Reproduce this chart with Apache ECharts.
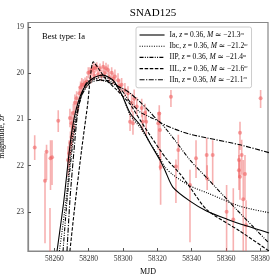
<!DOCTYPE html>
<html><head><meta charset="utf-8">
<script src="https://cdn.jsdelivr.net/npm/echarts@6/dist/echarts.min.js"></script>
<style>html,body{margin:0;padding:0;background:#fff}#c{width:280px;height:280px}</style>
</head><body><div id="c"></div>
<script>
const xTicks = [58260, 58280, 58300, 58320, 58340, 58360, 58380];
const yTicks = [19, 20, 21, 22, 23];
const types = ['Ia', 'Ibc', 'IIP', 'IIL', 'IIn'];
const absMag = ['21.3', '21.2', '21.4', '21.6', '21.1'];

const iaMjd = [58261.6, 58265.6, 58269.5, 58272.6, 58276.7, 58281.9, 58288.3, 58294.2, 58299.4, 58304.1, 58309.9, 58315.7, 58321.5, 58324.4, 58329.1, 58339.0, 58348.9, 58360.5, 58372.2, 58385.0];
const iaMag = [23.85, 22.75, 21.45, 20.80, 20.36, 20.12, 20.04, 20.15, 20.47, 20.86, 21.12, 21.51, 21.88, 22.10, 22.47, 22.77, 22.99, 23.16, 23.31, 23.46];

const ibcMjd = [58263.0, 58266.8, 58270.3, 58273.2, 58277.3, 58282.5, 58287.8, 58293.6, 58299.4, 58304.1, 58309.9, 58315.7, 58321.5, 58324.4, 58329.1, 58339.0, 58348.9, 58368.1, 58385.0];
const ibcMag = [23.85, 22.75, 21.45, 20.80, 20.36, 20.15, 20.08, 20.15, 20.47, 20.90, 21.17, 21.51, 21.84, 22.03, 22.20, 22.44, 22.59, 22.88, 23.02];

const iipMjd = [58265.1, 58267.4, 58270.3, 58273.2, 58276.1, 58280.8, 58286.6, 58292.4, 58298.2, 58304.1, 58309.9, 58315.7, 58321.5, 58330.2, 58339.0, 58348.9, 58366.3, 58385.0];
const iipMag = [23.85, 22.75, 21.66, 20.90, 20.47, 20.21, 20.15, 20.17, 20.32, 20.62, 20.84, 20.95, 21.06, 21.45, 21.88, 22.27, 22.96, 23.68];

const iilMjd = [58269.1, 58272.0, 58275.9, 58279.3, 58282.7, 58285.6, 58290.5, 58296.3, 58304.1, 58309.9, 58315.7, 58325.0, 58333.2, 58339.0, 58348.9, 58368.1, 58385.0];
const iilMag = [23.85, 22.86, 21.66, 20.71, 19.75, 19.89, 20.15, 20.36, 20.67, 21.01, 21.34, 21.84, 22.18, 22.47, 22.96, 23.42, 23.85];

const iinMjd = [58267.4, 58269.1, 58271.5, 58273.8, 58276.7, 58279.6, 58283.7, 58289.5, 58295.3, 58299.4, 58304.1, 58309.9, 58315.7, 58321.5, 58330.2, 58339.0, 58348.9, 58368.1, 58385.0];
const iinMag = [23.85, 22.75, 21.66, 20.80, 20.36, 20.17, 20.12, 20.17, 20.25, 20.32, 20.43, 20.62, 20.84, 21.06, 21.21, 21.32, 21.40, 21.55, 21.72];

const obsMjd = [58248.6, 58254.6, 58255.5, 58257.8, 58258.7, 58257.5, 58262.3,
  58268.0, 58268.7, 58269.1, 58269.4, 58270.1, 58270.1, 58271.1, 58271.1, 58272.0, 58273.0, 58273.5, 58274.6, 58275.3, 58276.0, 58276.9, 58277.9, 58278.9, 58279.8, 58280.8, 58281.3, 58281.8, 58282.7, 58283.2, 58283.7, 58284.7, 58285.5, 58286.6, 58287.5, 58288.5, 58289.3, 58290.1, 58291.3, 58292.0, 58293.4, 58294.3, 58295.3, 58297.1, 58298.0, 58299.2, 58301.1, 58302.9, 58304.1, 58305.0, 58305.8, 58306.5, 58308.0, 58310.9, 58312.8, 58313.5,
  58311.4, 58321.1, 58320.5, 58321.5, 58321.9, 58327.9, 58332.2, 58330.8, 58339.0, 58342.5, 58348.7, 58352.2, 58349.0, 58360.3, 58364.2, 58368.1, 58369.1, 58367.5, 58367.5, 58368.1, 58370.0, 58371.0, 58371.6, 58380.1];
const obsMag = [21.61, 22.33, 21.70, 21.84, 21.82, 24.40, 21.03,
  21.88, 21.73, 20.97, 21.51, 21.08, 21.38, 20.86, 21.16, 20.64, 20.54, 20.75, 20.43, 20.30, 20.25, 20.25, 20.21, 20.18, 19.99, 19.97, 20.12, 19.93, 19.89, 20.05, 19.89, 19.86, 20.02, 19.89, 20.05, 19.86, 20.00, 19.89, 19.93, 20.08, 19.99, 20.12, 20.07, 20.15, 20.28, 20.25, 20.36, 20.43, 21.05, 20.64, 21.08, 20.55, 20.72, 20.75, 20.86, 21.05,
  21.05, 20.87, 21.08, 21.23, 22.03, 20.51, 21.66, 22.02, 22.42, 21.84, 21.77, 21.77, 22.28, 23.00, 23.17, 21.29, 21.77, 21.88, 22.10, 22.24, 22.73, 22.18, 23.29, 20.54];
const obsErrUp = [0.27, 0.60, 0.15, 0.39, 0.37, 1.48, 0.23,
  0.30, 0.28, 0.20, 0.25, 0.25, 0.22, 0.20, 0.20, 0.18, 0.15, 0.15, 0.15, 0.12, 0.15, 0.12, 0.12, 0.12, 0.12, 0.10, 0.10, 0.10, 0.12, 0.10, 0.10, 0.10, 0.10, 0.10, 0.12, 0.12, 0.12, 0.12, 0.12, 0.12, 0.12, 0.12, 0.15, 0.15, 0.15, 0.15, 0.15, 0.15, 0.20, 0.20, 0.25, 0.20, 0.20, 0.20, 0.20, 0.25,
  0.19, 0.18, 0.24, 0.39, 0.37, 0.15, 0.33, 0.15, 0.33, 0.39, 0.37, 0.32, 0.29, 0.58, 0.68, 0.24, 0.33, 0.33, 0.33, 0.36, 0.85, 0.41, 0.54, 0.18];
const obsErrDown = [0.27, 1.35, 0.61, 0.69, 0.60, 0.50, 0.24,
  0.35, 0.30, 0.20, 0.25, 0.25, 0.25, 0.20, 0.20, 0.20, 0.15, 0.15, 0.15, 0.12, 0.15, 0.12, 0.12, 0.12, 0.12, 0.10, 0.10, 0.10, 0.12, 0.10, 0.10, 0.10, 0.10, 0.10, 0.12, 0.12, 0.12, 0.12, 0.12, 0.12, 0.12, 0.12, 0.15, 0.15, 0.15, 0.15, 0.15, 0.15, 0.20, 0.20, 0.25, 0.20, 0.20, 0.20, 0.20, 0.30,
  0.22, 0.19, 0.58, 0.87, 0.82, 0.22, 0.44, 0.79, 1.24, 0.43, 0.50, 0.65, 0.25, 0.85, 0.72, 0.37, 0.43, 0.39, 0.43, 0.50, 1.14, 0.56, 0.59, 0.21];

const curves = [
  [iaMjd, iaMag, 'solid'],
  [ibcMjd, ibcMag, [1, 1.4]],
  [iipMjd, iipMag, [4, 1.3, 1, 1.3, 1, 1.3]],
  [iilMjd, iilMag, [3.5, 1.6]],
  [iinMjd, iinMag, [5, 1.5, 1.2, 1.5]]
];

const SERIF = "'Liberation Serif','DejaVu Serif',serif";
const chart = echarts.init(document.getElementById('c'), null, {renderer: 'canvas'});

const obsData = obsMjd.map((m, i) => [m, obsMag[i], obsErrUp[i], obsErrDown[i]]);

const series = [];
series.push({
  type: 'custom', name: 'err', clip: true, silent: true, z: 1,
  data: obsData,
  renderItem: function (params, api) {
    const x = api.value(0), y = api.value(1), up = api.value(2), dn = api.value(3);
    const p1 = api.coord([x, y - up]);
    const p2 = api.coord([x, y + dn]);
    return {type: 'line', shape: {x1: p1[0], y1: p1[1], x2: p2[0], y2: p2[1]},
      style: {stroke: 'rgba(240,100,100,0.5)', lineWidth: 1.6}};
  }
});
series.push({
  type: 'scatter', name: 'obs', z: 2, silent: true, clip: true,
  symbolSize: 4,
  data: obsData.map(d => [d[0], d[1]]),
  itemStyle: {color: 'rgba(240,100,100,0.75)'}
});
curves.forEach((c, k) => {
  series.push({
    type: 'line', name: types[k], z: 5, clip: true, silent: true,
    data: c[0].map((m, i) => [m, c[1][i]]),
    showSymbol: false, symbol: 'none', smooth: 0.25,
    lineStyle: {color: '#000', width: 1.1, type: c[2]},
    itemStyle: {color: '#000'}
  });
});

chart.setOption({
  animation: false,
  backgroundColor: '#fff',
  title: [
    {text: 'SNAD125', left: 148, top: 3, textAlign: 'center',
     textStyle: {fontFamily: SERIF, fontSize: 11, fontWeight: 'normal', color: '#000'}},
    {text: 'Best type: Ia', left: 37, top: 27,
     textStyle: {fontFamily: SERIF, fontSize: 8.5, fontWeight: 'normal', color: '#000'}}
  ],
  grid: {left: 28, right: 12, top: 22.5, bottom: 29, show: true, containLabel: false, outerBoundsMode: 'none',
    borderColor: '#888', borderWidth: 1.2, backgroundColor: 'transparent'},
  legend: {
    data: types, orient: 'vertical', left: 136, top: 27,
    itemWidth: 25, itemHeight: 6, itemGap: 3.2,
    padding: [4, 4, 4, 3],
    itemStyle: {opacity: 0},
    lineStyle: {width: 1.1},
    backgroundColor: 'rgba(255,255,255,0.85)', borderColor: '#ccc', borderWidth: 1, borderRadius: 2,
    formatter: function (name) {
      const k = types.indexOf(name);
      return name + ', {i|z} = 0.36, {i|M} ≃ −' + absMag[k] + '{s|m}';
    },
    textStyle: {fontFamily: SERIF, fontSize: 7.5, color: '#000',
      rich: {i: {fontFamily: SERIF, fontStyle: 'italic', fontSize: 7.5, color: '#000'},
             s: {fontFamily: SERIF, fontStyle: 'italic', fontSize: 4.5, color: '#000', verticalAlign: 'top', padding: [0, 0, 3, 0]}}}
  },
  xAxis: {
    type: 'value', min: 58244.7, max: 58384.4,
    name: 'MJD', nameLocation: 'middle', nameGap: 17,
    nameTextStyle: {fontFamily: SERIF, fontSize: 8, color: '#000'},
    axisLine: {show: true, lineStyle: {color: '#888', width: 1.2}},
    axisTick: {show: true, inside: true, length: 3, customValues: xTicks, lineStyle: {color: '#555'}},
    axisLabel: {customValues: xTicks, formatter: v => String(v), fontFamily: SERIF, fontSize: 7.5, color: '#333', margin: 4},
    splitLine: {show: false}
  },
  yAxis: {
    type: 'value', inverse: true, min: 18.9, max: 23.85,
    name: 'magnitude, {i|zr}', nameLocation: 'middle', nameGap: 18,
    nameTextStyle: {fontFamily: SERIF, fontSize: 8, color: '#000',
      rich: {i: {fontFamily: SERIF, fontStyle: 'italic', fontSize: 8, color: '#000'}}},
    axisLine: {show: true, lineStyle: {color: '#888', width: 1.2}},
    axisTick: {show: true, inside: true, length: 3, customValues: yTicks, lineStyle: {color: '#555'}},
    axisLabel: {customValues: yTicks, formatter: v => String(v), fontFamily: SERIF, fontSize: 7.5, color: '#333', margin: 4},
    splitLine: {show: false}
  },
  series: series
});
</script></body></html>
